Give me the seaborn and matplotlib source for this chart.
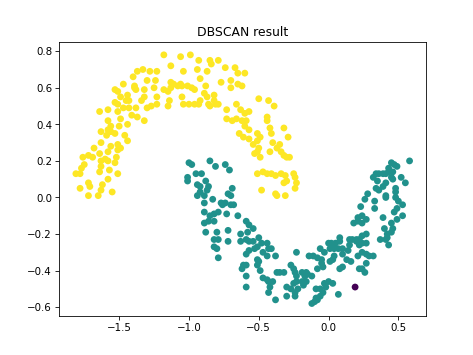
import matplotlib
matplotlib.use("Agg")
import matplotlib.pyplot as plt
import numpy as np
import pandas as pd
import seaborn as sns

# cluster 1 (upper moon)
x_upper = [-1.18, -1.06, -0.99, -0.93, -0.85, -0.79, -0.84, -1.13, -1.04, -1.28,
           -1.37, -1.33, -1.23, -0.94, -0.87, -0.74, -0.67, -0.65, -0.60, -1.40,
           -1.30, -1.24, -1.13, -1.11, -1.08, -1.06, -1.01, -0.98, -0.92, -0.88,
           -0.77, -0.70, -0.65, -0.62, -0.70, -1.39, -1.39, -1.47, -1.53, -1.51,
           -1.38, -1.32, -1.25, -1.18, -1.15, -1.13, -1.05, -0.96, -0.89, -0.87,
           -0.82, -0.82, -0.79, -1.14, -1.23, -1.32, -1.34, -1.44, -1.43, -1.49,
           -1.53, -1.51, -1.45, -1.05, -0.92, -0.86, -0.50, -0.43, -0.39, -1.04,
           -1.00, -0.96, -0.93, -0.85, -0.81, -1.15, -1.23, -1.27, -1.30, -1.38,
           -1.43, -1.47, -1.51, -1.58, -1.64, -1.41, -1.37, -1.32, -1.49, -1.44,
           -1.50, -1.58, -1.56, -1.58, -1.63, -1.56, -1.59, -1.53, -1.46, -1.44,
           -1.51, -1.63, -1.56, -1.58, -1.51, -1.49, -1.68, -1.64, -1.72, -1.69,
           -1.76, -1.63, -1.60, -1.58, -1.53, -1.52, -1.75, -1.77, -1.63, -1.57,
           -1.64, -1.81, -1.78, -1.51, -1.78, -1.72, -1.71, -1.72, -1.65, -1.63,
           -1.62, -1.55, -1.58, -0.73, -0.66, -0.63, -0.60, -0.57, -0.66, -0.62,
           -0.73, -0.69, -0.59, -0.60, -0.57, -0.44, -0.44, -0.42, -0.32, -0.64,
           -0.61, -0.57, -0.51, -0.49, -0.51, -0.41, -0.29, -0.54, -0.50, -0.40,
           -0.37, -0.35, -0.51, -0.53, -0.49, -0.42, -0.34, -0.32, -0.30, -0.28,
           -0.51, -0.47, -0.44, -0.41, -0.38, -0.34, -0.31, -0.25, -0.24, -0.23,
           -0.32, -0.30, -0.24, -0.48, -0.38, -0.37, -0.31]
y_upper = [0.78, 0.77, 0.78, 0.75, 0.75, 0.75, 0.73, 0.72, 0.69, 0.69,
           0.69, 0.70, 0.69, 0.70, 0.69, 0.71, 0.71, 0.68, 0.68, 0.66,
           0.64, 0.64, 0.63, 0.62, 0.61, 0.62, 0.61, 0.60, 0.65, 0.61,
           0.63, 0.64, 0.62, 0.61, 0.60, 0.61, 0.60, 0.62, 0.59, 0.58,
           0.59, 0.59, 0.60, 0.59, 0.58, 0.60, 0.61, 0.59, 0.57, 0.55,
           0.56, 0.53, 0.51, 0.53, 0.55, 0.55, 0.53, 0.56, 0.53, 0.55,
           0.52, 0.51, 0.53, 0.55, 0.53, 0.51, 0.54, 0.53, 0.50, 0.51,
           0.51, 0.51, 0.51, 0.50, 0.51, 0.50, 0.51, 0.50, 0.49, 0.49,
           0.49, 0.49, 0.47, 0.48, 0.47, 0.45, 0.44, 0.42, 0.43, 0.40,
           0.39, 0.42, 0.39, 0.37, 0.36, 0.36, 0.34, 0.35, 0.34, 0.31,
           0.29, 0.30, 0.28, 0.25, 0.26, 0.27, 0.27, 0.24, 0.23, 0.22,
           0.22, 0.20, 0.21, 0.20, 0.19, 0.22, 0.18, 0.16, 0.17, 0.15,
           0.14, 0.13, 0.13, 0.13, 0.05, 0.08, 0.06, 0.01, 0.01, 0.04,
           0.07, 0.03, 0.10, 0.48, 0.51, 0.48, 0.46, 0.47, 0.43, 0.42,
           0.43, 0.42, 0.42, 0.39, 0.37, 0.44, 0.42, 0.38, 0.38, 0.35,
           0.33, 0.32, 0.35, 0.33, 0.31, 0.35, 0.33, 0.29, 0.27, 0.30,
           0.27, 0.29, 0.25, 0.24, 0.22, 0.25, 0.25, 0.23, 0.22, 0.22,
           0.13, 0.14, 0.13, 0.13, 0.12, 0.13, 0.12, 0.13, 0.11, 0.08,
           0.08, 0.09, 0.05, 0.04, 0.02, 0.01, 0.01]

# cluster 0 (lower moon)
x_lower = [-1.00, -0.98, -0.85, -0.81, -0.74, -0.71, -1.01, -1.01, -0.95, -0.91,
           -0.94, -0.92, -0.88, -0.86, -0.94, -0.89, -0.92, -0.87, -0.83, -0.89,
           -0.77, -0.76, -0.74, -0.70, -0.69, -0.72, -0.70, -0.73, -0.68, -0.65,
           -0.79, -0.82, -0.89, -0.85, -0.89, -0.86, -0.82, -0.88, -0.80, -0.72,
           -0.63, -0.59, -0.57, -0.58, -0.54, -0.82, -0.79, -0.72, -0.82, -0.80,
           -0.79, -0.63, -0.59, -0.57, -0.54, -0.50, -0.48, -0.51, -0.53, -0.57,
           -0.59, -0.44, -0.43, -0.47, -0.41, -0.44, -0.38, -0.59, -0.61, -0.62,
           -0.59, -0.51, -0.50, -0.51, -0.49, -0.47, -0.44, -0.43, -0.40, -0.42,
           -0.43, -0.38, -0.59, -0.37, -0.35, -0.32, -0.30, -0.30, -0.27, -0.25,
           -0.23, -0.23, -0.27, -0.25, -0.24, -0.23, -0.24, -0.24, -0.22, -0.19,
           -0.19, -0.17, -0.15, -0.16, -0.18, -0.12, -0.16, -0.11, -0.08, -0.05,
           -0.06, -0.03, -0.00, 0.01, 0.02, 0.03, 0.05, 0.08, 0.08, 0.04,
           0.07, 0.10, 0.01, 0.04, 0.10, 0.15, 0.17, 0.20, 0.22, 0.20,
           0.24, 0.27, 0.15, 0.16, 0.22, 0.24, 0.27, 0.29, 0.32, 0.08,
           0.10, 0.22, 0.24, 0.26, 0.27, 0.24, 0.18, 0.21, 0.24, 0.21,
           0.27, 0.27, 0.24, 0.23, 0.26, 0.28, 0.33, 0.33, 0.34, 0.35,
           0.36, 0.34, 0.32, 0.39, 0.41, 0.43, 0.46, 0.43, 0.45, 0.47,
           0.49, 0.45, 0.41, 0.46, 0.52, 0.55, 0.58, 0.48, 0.48, 0.41,
           0.48, 0.50, 0.53, 0.49, 0.47, 0.53, 0.49, 0.45, 0.46, 0.45,
           0.39, 0.40, 0.42, 0.37, 0.41, 0.43, 0.42, 0.36, 0.39, 0.41,
           0.14, 0.21, 0.03, 0.07, -0.03, -0.06, -0.09, -0.04, -0.06, -0.08,
           -0.10, -0.12, -0.09, -0.00, -0.02, -0.14, -0.05, -0.08, -0.04, 0.13,
           0.03]
y_lower = [0.19, 0.18, 0.20, 0.17, 0.18, 0.15, 0.11, 0.09, 0.13, 0.13,
           0.07, 0.06, 0.09, 0.06, 0.01, 0.01, 0.03, 0.04, -0.01, -0.03,
           -0.03, -0.04, -0.03, 0.01, 0.05, 0.02, -0.04, -0.09, -0.04, -0.10,
           -0.08, -0.09, -0.08, -0.10, -0.14, -0.13, -0.13, -0.19, -0.19, -0.18,
           -0.20, -0.13, -0.15, -0.19, -0.17, -0.23, -0.23, -0.24, -0.27, -0.28,
           -0.33, -0.24, -0.23, -0.24, -0.24, -0.22, -0.25, -0.27, -0.28, -0.29,
           -0.31, -0.25, -0.28, -0.30, -0.28, -0.32, -0.32, -0.37, -0.37, -0.39,
           -0.43, -0.34, -0.35, -0.37, -0.40, -0.44, -0.45, -0.46, -0.46, -0.49,
           -0.52, -0.56, -0.49, -0.41, -0.41, -0.41, -0.49, -0.54, -0.50, -0.47,
           -0.46, -0.30, -0.37, -0.39, -0.41, -0.43, -0.52, -0.54, -0.50, -0.46,
           -0.41, -0.43, -0.42, -0.46, -0.48, -0.43, -0.41, -0.32, -0.33, -0.34,
           -0.28, -0.30, -0.25, -0.28, -0.25, -0.26, -0.25, -0.24, -0.22, -0.28,
           -0.28, -0.28, -0.35, -0.32, -0.31, -0.23, -0.23, -0.23, -0.23, -0.24,
           -0.25, -0.25, -0.26, -0.35, -0.26, -0.30, -0.31, -0.32, -0.32, -0.39,
           -0.38, -0.39, -0.39, -0.41, -0.36, -0.14, -0.14, -0.13, -0.10, -0.11,
           -0.12, -0.20, -0.21, -0.05, -0.01, 0.02, -0.02, -0.06, 0.05, 0.09,
           0.13, 0.13, 0.11, 0.13, 0.13, 0.14, 0.14, 0.16, 0.19, 0.18,
           0.17, 0.11, 0.08, 0.10, 0.11, 0.08, 0.20, 0.05, 0.03, -0.00,
           -0.00, -0.02, -0.04, -0.06, -0.08, -0.10, -0.12, -0.14, -0.17, -0.19,
           -0.11, -0.17, -0.20, -0.23, -0.23, -0.26, -0.22, 0.04, 0.06, 0.01,
           -0.29, -0.32, -0.47, -0.53, -0.47, -0.50, -0.50, -0.52, -0.54, -0.56,
           -0.57, -0.58, -0.55, -0.46, -0.49, -0.32, -0.36, -0.39, -0.38, -0.34,
           -0.34]

# noise point
x_noise = [0.19]
y_noise = [-0.49]

x_all = x_noise + x_lower + x_upper
y_all = y_noise + y_lower + y_upper
labels = [-1] * len(x_noise) + [0] * len(x_lower) + [1] * len(x_upper)

df = pd.DataFrame({"x": x_all, "y": y_all, "label": labels})

fig = plt.figure(figsize=(6.4, 4.8), dpi=74)
ax = sns.scatterplot(data=df, x="x", y="y", hue="label", palette="viridis",
                     s=44, linewidth=0, legend=False)
ax.set_xlabel("")
ax.set_ylabel("")
ax.set_xticks([-1.5, -1.0, -0.5, 0.0, 0.5])
ax.set_title("DBSCAN result")

plt.savefig("out.png", dpi=74)
